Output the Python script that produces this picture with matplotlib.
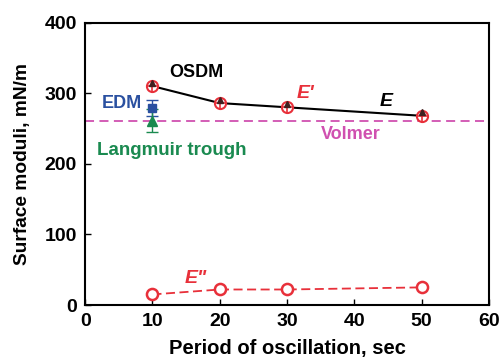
import matplotlib.pyplot as plt

period = [10, 20, 30, 50]
e_total = [315, 291, 285, 273]
e_storage = [310, 286, 280, 268]
e_loss = [15, 22, 22, 25]

edm_x, edm_y, edm_err = 10, 279, 12
trough_x, trough_y, trough_err = 10, 261, 16
volmer = 261

red = '#e8303a'
plt.rcParams['font.family'] = ['Liberation Sans', 'DejaVu Sans']
plt.rcParams['font.weight'] = 'bold'

fig = plt.figure(figsize=(5.04, 3.64), dpi=100)
ax = fig.add_axes([0.169, 0.162, 0.801, 0.776])

ax.axhline(volmer, color='#d050b0', ls=(0, (5, 3)), lw=1.3, zorder=1)
ax.errorbar(edm_x, edm_y, yerr=edm_err, fmt='s', color='#2a50a0', ms=6,
            capsize=4, elinewidth=1, zorder=3)
ax.errorbar(trough_x, trough_y, yerr=trough_err, fmt='^', color='#1a8a50',
            ms=7, capsize=4, elinewidth=1, zorder=3)
ax.plot(period, e_storage, color='black', lw=1.5, zorder=4)
ax.plot(period, e_storage, ls='none', marker='o', mfc='white', mec=red,
        mew=1.5, ms=8, zorder=5)
ax.plot(period, e_storage, ls='none', marker='+', color=red, mew=1.2, ms=7,
        zorder=6)
ax.plot(period, e_total, ls='none', marker='^', color='#402020', ms=4,
        zorder=7)
ax.plot(period, e_loss, color=red, ls=(0, (5, 2.5)), lw=1.3, marker='o',
        mfc='white', mec=red, mew=1.8, ms=8, zorder=4)

ax.text(16.6, 329, 'OSDM', fontsize=13, ha='center', va='center')
ax.text(5.5, 285, 'EDM', fontsize=13, ha='center', va='center', color='#2a50a0')
ax.text(12.8, 219, 'Langmuir trough', fontsize=13.5, ha='center', va='center',
        color='#1a8a50')
ax.text(32.7, 299, "E'", fontsize=14, ha='center', va='center', color=red,
        style='italic')
ax.text(44.8, 288, 'E', fontsize=14, ha='center', va='center', style='italic')
ax.text(39.4, 242, 'Volmer', fontsize=13, ha='center', va='center',
        color='#d050b0')
ax.text(16.5, 37, 'E"', fontsize=14, ha='center', va='center', color=red,
        style='italic')

ax.set_xlim(0, 60)
ax.set_ylim(0, 400)
ax.set_xticks([0, 10, 20, 30, 40, 50, 60])
ax.set_yticks([0, 100, 200, 300, 400])
ax.tick_params(direction='in', length=4, labelsize=14, width=1, pad=6)
for s in ax.spines.values():
    s.set_linewidth(1.5)
ax.set_xlabel('Period of oscillation, sec', fontsize=14.5, fontweight='bold',
              labelpad=6)
ax.set_ylabel('Surface moduli, mN/m', fontsize=13.8, fontweight='bold')
ax.yaxis.set_label_coords(-0.135, 0.5)

fig.savefig('out.png', dpi=100)
